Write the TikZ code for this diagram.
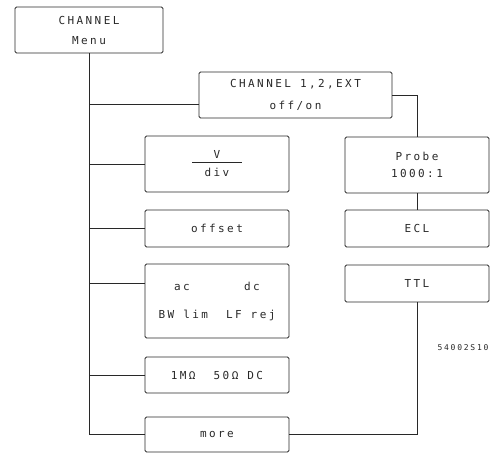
\documentclass[tikz,border=0pt]{standalone}
\usepackage{fontspec}
\newfontfamily\keyfont[LetterSpace=22]{DejaVu Sans Mono}
\definecolor{scanink}{RGB}{40,40,40}

\begin{document}
\begin{tikzpicture}[x=1pt, y=-1pt, color=scanink, line width=0.9pt,
  keybox/.style={draw, rounded corners=1.5pt, minimum width=144pt,
    align=center, font=\keyfont\fontsize{11}{13}\selectfont}]
\useasboundingbox (0,0) rectangle (490,453);
% softkey boxes
\node[keybox, minimum width=148pt, minimum height=46pt] (menu) at (89,30) {CHANNEL\\[7pt]Menu};
\node[keybox, minimum width=193pt, minimum height=46pt] (chan) at (295.5,95) {CHANNEL 1,2,EXT\\[9pt]off/on};
\node[keybox, minimum height=56pt] (vdiv) at (217,164) {V\\[-9pt]\rule{50pt}{0.6pt}\\[1pt]div};
\node[keybox, minimum height=37pt] (offset) at (217,228.5) {offset};
\node[keybox, minimum height=74pt] (coupl) at (217,301) {ac~~~~~~dc\\[15pt]BW lim~~LF rej};
\node[keybox, minimum height=36pt] (imped) at (217,375) {1MΩ~~50Ω DC};
\node[keybox, minimum height=35pt] (more) at (217,434.5) {more};
\node[keybox, minimum height=56pt] (probe) at (417,165) {Probe\\[4pt]1000:1};
\node[keybox, minimum height=37pt] (ecl) at (417,228.5) {ECL};
\node[keybox, minimum height=37pt] (ttl) at (417,283.5) {TTL};
\node[font=\keyfont\fontsize{8}{10}\selectfont] (fignum) at (463,348) {54002S10};
% connectors
\coordinate (chanin) at ([yshift=-9pt]chan.west);
\coordinate (couplin) at ([yshift=18pt]coupl.west);
\draw (menu.south) -- (menu.south |- more.west);
\foreach \k in {chanin, vdiv.west, offset.west, couplin, imped.west, more.west}
  \draw (menu.south |- \k) -- (\k);
\draw (chan.east) -| (probe.north);
\draw (probe.south) -- (ecl.north);
\draw (ttl.south) |- (more.east);
\end{tikzpicture}
\end{document}
